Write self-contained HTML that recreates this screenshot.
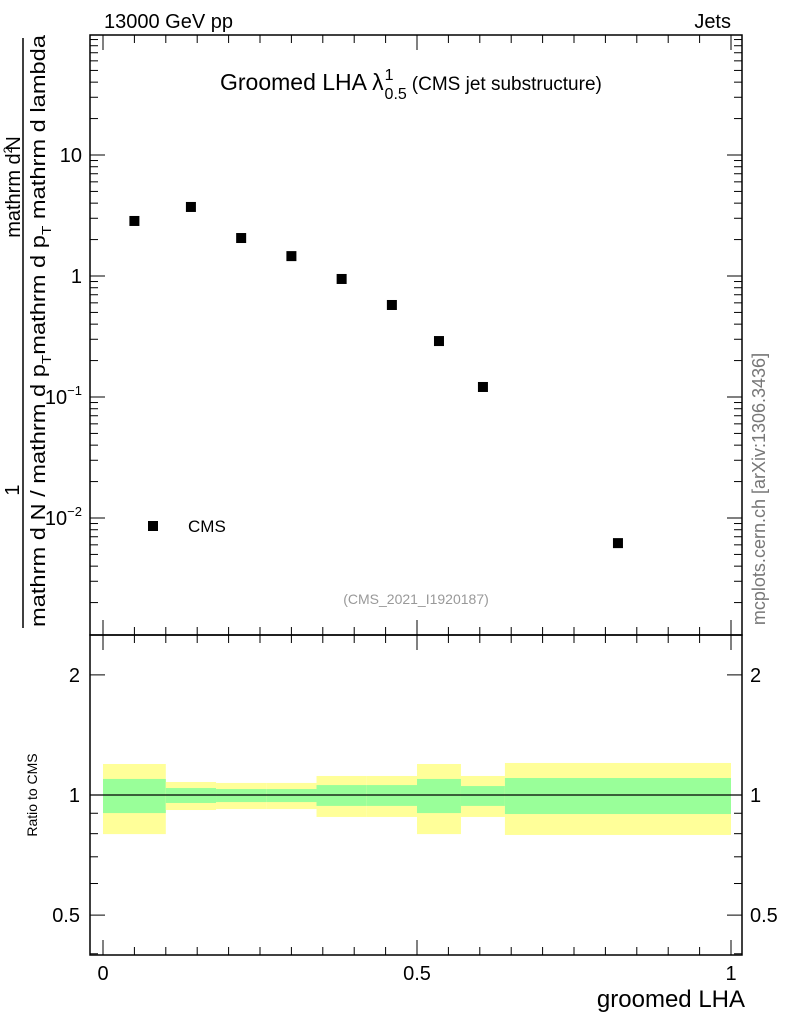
<!DOCTYPE html>
<html><head><meta charset="utf-8"><style>
body{margin:0;background:#fff;font-family:"Liberation Sans",sans-serif}
svg text{font-family:"Liberation Sans",sans-serif}
</style></head><body>
<svg id="c" width="786" height="1024" viewBox="0 0 786 1024" xmlns="http://www.w3.org/2000/svg">
<text x="104" y="28" font-size="20">13000 GeV pp</text>
<text x="731" y="28" font-size="20" text-anchor="end">Jets</text>
<text x="220" y="90" font-size="23">Groomed LHA λ<tspan font-size="16" dx="1" dy="-10">1</tspan><tspan font-size="16" dx="-9" dy="19">0.5</tspan><tspan font-size="19" dx="5" dy="-9">(CMS jet substructure)</tspan></text>
<text x="416" y="604" font-size="14" fill="#999" text-anchor="middle">(CMS_2021_I1920187)</text>
<text transform="translate(765,489) rotate(-90)" font-size="18" fill="#777" text-anchor="middle">mcplots.cern.ch [arXiv:1306.3436]</text>
<g>
<text transform="translate(20,187) rotate(-90)" font-size="20" text-anchor="middle">mathrm d<tspan font-size="12" dy="-8">2</tspan><tspan dx="-4" dy="8">N</tspan></text>
<text transform="translate(19,490) rotate(-90)" font-size="20" text-anchor="middle">1</text>
<line x1="23" y1="628" x2="23" y2="38" stroke="#000" stroke-width="1.5"/>
<text transform="translate(45,627) rotate(-90)" font-size="20" textLength="592" lengthAdjust="spacingAndGlyphs">mathrm d N / mathrm d p<tspan font-size="13" dy="6">T</tspan><tspan dy="-6">mathrm d p</tspan><tspan font-size="13" dy="6">T</tspan><tspan dy="-6"> mathrm d lambda</tspan></text>
</g>
<text transform="translate(37,795) rotate(-90)" font-size="14" text-anchor="middle">Ratio to CMS</text>
<text x="745" y="1007" font-size="24" text-anchor="end">groomed LHA</text>
<g id="g"></g>
</svg>
<script>
const binEdges=[0,0.1,0.18,0.26,0.34,0.42,0.5,0.57,0.64,1];
const cmsValues=[2.85,3.72,2.06,1.46,0.945,0.576,0.29,0.121,0.0062];
const yellowHi=[1.196,1.078,1.072,1.072,1.116,1.116,1.196,1.116,1.203];
const yellowLo=[0.798,0.917,0.922,0.922,0.881,0.881,0.798,0.881,0.794];
const greenHi=[1.097,1.041,1.035,1.035,1.059,1.059,1.097,1.053,1.103];
const greenLo=[0.901,0.955,0.960,0.960,0.939,0.939,0.901,0.939,0.896];
const xTicks=[0,0.5,1];
const xTickLabels=["0","0.5","1"];
const NS="http://www.w3.org/2000/svg";
const g=document.getElementById('g');
const X=v=>103+v*628;
const Y=v=>276-Math.log10(v)*121;
const R=v=>795-Math.log10(v)*399;
function el(t,a,p){const e=document.createElementNS(NS,t);for(const k in a)e.setAttribute(k,a[k]);(p||g).appendChild(e);return e;}
for(let i=0;i<cmsValues.length;i++){
 const x0=X(binEdges[i]),x1=X(binEdges[i+1]);
 const y=el('rect',{x:x0,y:R(yellowHi[i]),width:x1-x0,height:R(yellowLo[i])-R(yellowHi[i]),fill:'#ffff99'});
 
 
 const gr=el('rect',{x:x0,y:R(greenHi[i]),width:x1-x0,height:R(greenLo[i])-R(greenHi[i]),fill:'#99ff99'});
 
 
}
const rl=el('line',{x1:90,x2:742,y1:R(1),y2:R(1),stroke:'#000','stroke-width':1.3});


const f1=el('rect',{x:90,y:35,width:652,height:600,fill:'none',stroke:'#000','stroke-width':1.5});


const f2=el('rect',{x:90,y:635,width:652,height:320,fill:'none',stroke:'#000','stroke-width':1.5});


for(let d=-3;d<=2;d++){for(let m=1;m<10;m++){const v=m*Math.pow(10,d);const y=Y(v);if(y<35||y>635)continue;const L=m==1?15:8;
 el('line',{x1:90,x2:90+L,y1:y,y2:y,stroke:'#000'});el('line',{x1:742,x2:742-L,y1:y,y2:y,stroke:'#000'});}}
const yl=[[10,"10"],[1,"1"]];
yl.forEach(([v,s])=>{const t=el('text',{x:82,y:Y(v)+7,'font-size':20,'text-anchor':'end'});t.textContent=s;});
[[0.1,"-1"],[0.01,"-2"]].forEach(([v,e])=>{const t=el('text',{x:82,y:Y(v)+7,'font-size':20,'text-anchor':'end'});t.innerHTML='10<tspan font-size="13" dy="-9">−'+e.slice(1)+'</tspan>';});
for(let d=-1;d<=0;d++){for(let m=1;m<10;m++){const v=m*Math.pow(10,d);const y=R(v);if(y<635||y>955)continue;const L=(v==0.5||v==1||v==2)?15:8;
 el('line',{x1:90,x2:90+L,y1:y,y2:y,stroke:'#000'});el('line',{x1:742,x2:742-L,y1:y,y2:y,stroke:'#000'});}}
[[0.5,"0.5"],[1,"1"],[2,"2"]].forEach(([v,s])=>{const a=el('text',{x:80,y:R(v)+7,'font-size':20,'text-anchor':'end'});a.textContent=s;
 const b=el('text',{x:750,y:R(v)+7,'font-size':20});b.textContent=s;});
for(let i=0;i<=20;i++){const v=i*0.05;const x=X(v);const L=i%10==0?15:8;
 el('line',{x1:x,x2:x,y1:955,y2:955-L,stroke:'#000'});el('line',{x1:x,x2:x,y1:635,y2:635-L,stroke:'#000'});el('line',{x1:x,x2:x,y1:635,y2:635+L,stroke:'#000'});el('line',{x1:x,x2:x,y1:35,y2:35+L,stroke:'#000'});}
xTicks.forEach((v,i)=>{const t=el('text',{x:X(v),y:980,'font-size':20,'text-anchor':'middle'});t.textContent=xTickLabels[i];});
cmsValues.forEach((v,i)=>{const xc=X((binEdges[i]+binEdges[i+1])/2);const p=el('rect',{x:xc-5,y:Y(v)-5,width:10,height:10,fill:'#000'});
 
 });
const lm=el('rect',{x:148,y:521,width:10,height:10,fill:'#000'});


const lt=el('text',{x:188,y:532,'font-size':17});lt.textContent='CMS';


</script>
</body></html>
